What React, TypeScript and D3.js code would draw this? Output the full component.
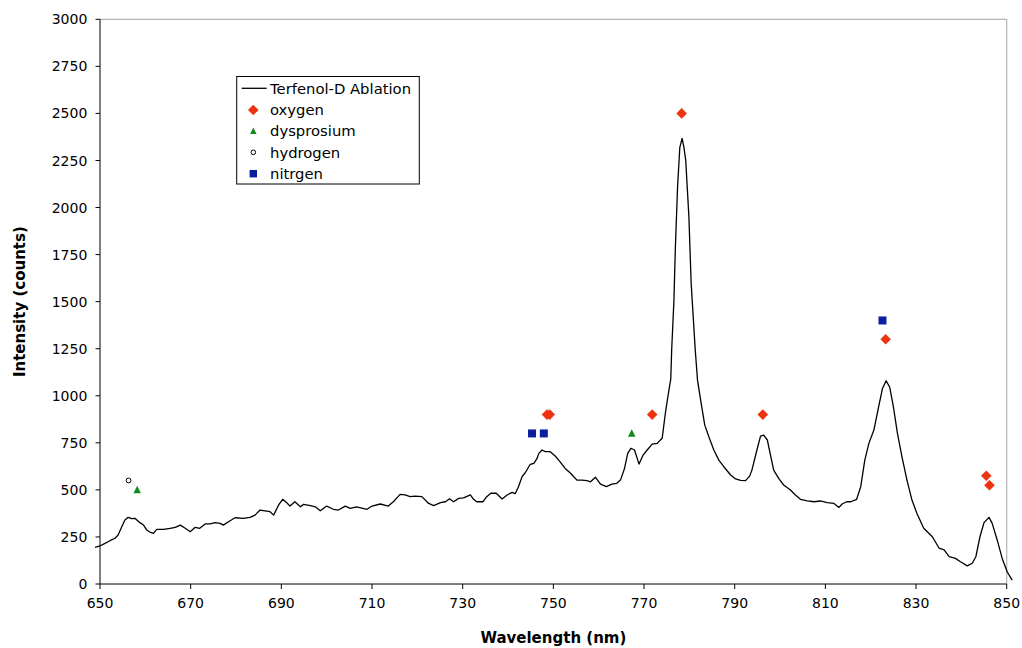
import React from "react";
import * as d3 from "d3";

// Spectrum: wavelength (nm) and intensity (counts)
const wavelength = [
  648.9, 650, 651.1, 652.2, 653.3, 654, 654.8, 655.5, 656.2, 657, 657.7, 658.8, 659.6, 660.3, 661, 661.8,
  662.5, 664, 665.5, 666.6, 667.7, 668.8, 669.9, 671, 672, 673.2, 674.3, 675.4, 676.5, 677.2, 678.7, 679.8,
  681.6, 683.1, 684.2, 685.3, 686.4, 687.5, 688.3, 689.4, 690.3, 691.2, 691.9, 693, 694.2, 694.9, 696.4,
  697.5, 698.6, 700, 701.5, 702.6, 704.1, 705.2, 706.6, 708.9, 710, 711.8, 713.6, 714.7, 716.2, 717.3,
  718.4, 719.5, 721, 722.5, 723.6, 725.1, 726.2, 727.1, 728, 729.1, 730.2, 731.7, 732.4, 733.1, 734.5,
  735.3, 736.2, 737.4, 738.7, 739.8, 740.9, 741.6, 742.3, 743.1, 743.8, 744.9, 745.7, 746.4, 746.8, 747.5,
  748.2, 749.3, 750.4, 751.5, 752.6, 753.8, 754.5, 755.2, 756.3, 757.4, 758.2, 759.3, 760.4, 761.7, 762.9,
  764, 764.8, 765.7, 766.4, 767.1, 767.9, 768.9, 769.8, 770.7, 771.8, 772.9, 774, 774.7, 775.3, 775.9,
  776.1, 776.6, 776.9, 777.4, 777.9, 778.4, 778.8, 779.2, 779.9, 780.4, 781.3, 781.8, 782.5, 783.4, 784.3,
  785.4, 786.5, 787.6, 789.1, 790.2, 791.3, 792.4, 793.3, 793.8, 794.9, 795.7, 796.4, 797.2, 797.9, 798.6,
  799.7, 800.8, 802.3, 803.4, 804.5, 806, 807.5, 808.9, 810.4, 811.9, 813, 813.7, 814.7, 815.6, 816.9,
  817.8, 818.7, 819.6, 820.7, 821.6, 822.6, 823.4, 824.2, 825, 825.9, 826.9, 828, 829.1, 830.2, 831.7,
  833.6, 835.1, 836.2, 837.3, 838.7, 839.8, 841.3, 842.4, 843.2, 844.1, 845, 846.1, 846.8, 847.9, 849,
  850.1, 851.2,
];
const intensity = [
  195, 202, 216, 230, 243, 260, 304, 340, 354, 347, 349, 326, 313, 287, 276, 269,
  290, 290, 296, 301, 313, 296, 278, 301, 296, 319, 319, 326, 322, 313, 336, 352,
  349, 354, 366, 393, 389, 384, 366, 420, 450, 432, 414, 437, 410, 423, 416,
  410, 389, 414, 397, 393, 414, 402, 410, 397, 414, 425, 414, 437, 476, 473,
  464, 467, 464, 428, 416, 432, 437, 453, 437, 455, 458, 473, 450, 437, 437,
  464, 482, 482, 452, 473, 487, 480, 517, 570, 591, 636, 641, 667, 694, 712,
  703, 703, 680, 649, 614, 588, 570, 552, 552, 549, 543, 567, 531, 517, 531,
  535, 552, 614, 694, 721, 712, 637, 685, 712, 743, 747, 774, 906, 1000, 1090,
  1243, 1508, 1774, 2110, 2320, 2367, 2320, 2251, 1950, 1597, 1243, 1083, 975, 844, 782,
  712, 658, 623, 579, 558, 550, 549, 573, 605, 712, 786, 791, 765, 685, 605,
  561, 526, 499, 473, 450, 442, 437, 441, 432, 428, 407, 425, 437, 437, 450,
  517, 658, 747, 818, 924, 1039, 1080, 1045, 942, 800, 676, 552, 446, 375, 296,
  251, 190, 181, 145, 136, 118, 96, 110, 145, 251, 326, 354, 322, 234, 136,
  65, 21,
];

// Marker series
const oxygenX = [748.6, 749.2, 771.8, 778.3, 796.2, 823.3, 845.5, 846.2];
const oxygenY = [900, 900, 900, 2500, 900, 1300, 575, 525];
const dysprosiumX = [658.2, 767.3];
const dysprosiumY = [500, 800];
const hydrogenX = [656.3];
const hydrogenY = [550];
const nitrogenX = [745.3, 747.9, 822.6];
const nitrogenY = [800, 800, 1400];

const xTicks = [650, 670, 690, 710, 730, 750, 770, 790, 810, 830, 850];
const yTicks = [0, 250, 500, 750, 1000, 1250, 1500, 1750, 2000, 2250, 2500, 2750, 3000];

const legendLabels = ["Terfenol-D Ablation", "oxygen", "dysprosium", "hydrogen", "nitrgen"];

const OXY = "#ee3311";
const DY = "#128a1e";
const NIT = "#0a1f9e";
const FONT = "Verdana, 'DejaVu Sans', sans-serif";

export default function App() {
  const W = 1022, H = 648;
  const x = d3.scaleLinear().domain([650, 850]).range([100, 1006.7]);
  const y = d3.scaleLinear().domain([0, 3000]).range([584, 19.3]);

  const pts = wavelength.map((w, i) => [w, intensity[i]] as [number, number]);
  const line = d3.line<[number, number]>().x(d => x(d[0])).y(d => y(d[1])).curve(d3.curveLinear);

  const diamond = (cx: number, cy: number, r: number) =>
    `M${cx},${cy - r}L${cx + r},${cy}L${cx},${cy + r}L${cx - r},${cy}Z`;
  const triangle = (cx: number, cy: number, s: number) =>
    `M${cx},${cy - s * 0.55}L${cx + s / 2},${cy + s * 0.45}L${cx - s / 2},${cy + s * 0.45}Z`;

  const x0 = x.range()[0], x1 = x.range()[1];
  const y0 = y.range()[0], y1 = y.range()[1];

  const legY = [88.3, 110, 131, 152.3, 173.7];
  const legMX = 253.3;

  return (
    <svg width={W} height={H} style={{ position: "absolute", left: 0, top: 0, background: "#fff" }}
      fontFamily={FONT}>
      <rect x={0} y={0} width={W} height={H} fill="#fff" />
      {/* plot border top/right */}
      <path d={`M${x0},${y1}H${x1}V${y0}`} fill="none" stroke="#b4b4b4" strokeWidth={1.2} />
      {/* axes */}
      <line x1={x0} x2={x1} y1={y0} y2={y0} stroke="#000" strokeWidth={1} />
      <line x1={x0} x2={x0} y1={y0} y2={y1} stroke="#000" strokeWidth={1} />
      {yTicks.map(t => (
        <g key={"y" + t}>
          <line x1={x0 - 4.5} x2={x0} y1={y(t)} y2={y(t)} stroke="#000" />
          <text x={x0 - 12.7} y={y(t)} dy="0.36em" textAnchor="end" fontSize={14}>{t}</text>
        </g>
      ))}
      {xTicks.map(t => (
        <g key={"x" + t}>
          <line x1={x(t)} x2={x(t)} y1={y0} y2={y0 + 5} stroke="#000" />
          <text x={x(t)} y={y0 + 24} textAnchor="middle" fontSize={14}>{t}</text>
        </g>
      ))}
      <text x={(x0 + x1) / 2} y={643} textAnchor="middle" fontSize={15} fontWeight="bold">Wavelength (nm)</text>
      <text transform={`translate(24.5,${(y0 + y1) / 2}) rotate(-90)`} textAnchor="middle" fontSize={15}
        fontWeight="bold">Intensity (counts)</text>

      {/* spectrum */}
      <path d={line(pts) || ""} fill="none" stroke="#000" strokeWidth={1.3} strokeLinejoin="round" />

      {/* markers */}
      {oxygenX.map((w, i) => (
        <path key={"o" + i} d={diamond(x(w), y(oxygenY[i]), 5.3)} fill={OXY} />
      ))}
      {dysprosiumX.map((w, i) => (
        <path key={"d" + i} d={triangle(x(w), y(dysprosiumY[i]), 7.5)} fill={DY} />
      ))}
      {hydrogenX.map((w, i) => (
        <circle key={"h" + i} cx={x(w)} cy={y(hydrogenY[i])} r={2.4} fill="#fff" stroke="#000" strokeWidth={1} />
      ))}
      {nitrogenX.map((w, i) => (
        <rect key={"n" + i} x={x(w) - 4} y={y(nitrogenY[i]) - 4} width={8} height={8} fill={NIT} />
      ))}

      {/* legend */}
      <rect x={236.7} y={76.5} width={182.6} height={107.5} fill="#fff" stroke="#000" strokeWidth={1} />
      <line x1={241.7} x2={266.7} y1={legY[0]} y2={legY[0]} stroke="#000" strokeWidth={1.3} />
      <path d={diamond(legMX, legY[1], 5.3)} fill={OXY} />
      <path d={triangle(legMX, legY[2], 6.5)} fill={DY} />
      <circle cx={legMX} cy={legY[3]} r={2.3} fill="#fff" stroke="#000" strokeWidth={1} />
      <rect x={legMX - 3.7} y={legY[4] - 3.7} width={7.4} height={7.4} fill={NIT} />
      {legendLabels.map((l, i) => (
        <text key={l} x={270} y={legY[i]} dy="0.36em" fontSize={14.8}>{l}</text>
      ))}
    </svg>
  );
}
